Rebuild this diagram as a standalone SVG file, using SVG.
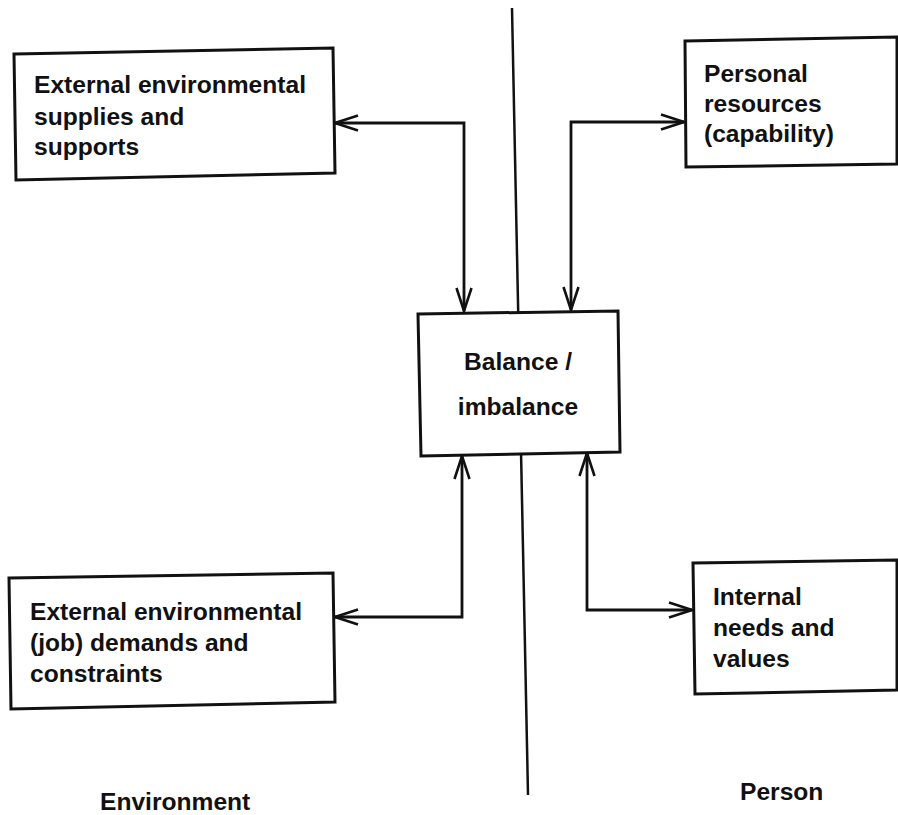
<svg xmlns="http://www.w3.org/2000/svg" width="898" height="815" viewBox="0 0 898 815">
  <style>
    .box { fill: #fff; stroke: #111; stroke-width: 3; stroke-linejoin: miter; }
    .label { font-family: "Liberation Sans", Arial, sans-serif; font-weight: bold; font-size: 24.6px; fill: #111; }
    .link { fill: none; stroke: #111; stroke-width: 2.8; marker-start: url(#head); marker-end: url(#head); }
    .divider { stroke: #111; stroke-width: 2.5; }
  </style>
  <defs>
    <marker id="head" viewBox="-26 -10 28 20" refX="0" refY="0" markerWidth="28" markerHeight="20" markerUnits="userSpaceOnUse" orient="auto-start-reverse">
      <path d="M-23,-7.5 L0,0 L-23,7.5" fill="none" stroke="#111" stroke-width="2.6"/>
    </marker>
  </defs>
  <rect width="898" height="815" fill="#fff"/>

  <!-- environment / person divider -->
  <line class="divider" x1="512" y1="8" x2="528" y2="795"/>

  <!-- connectors -->
  <g id="connectors">
    <path class="link" d="M335,123 H464 V311"/>
    <path class="link" d="M684,122 H571 V310"/>
    <path class="link" d="M335,617 H462 V456"/>
    <path class="link" d="M587,453 V610 H692"/>
  </g>

  <g id="supplies">
    <polygon class="box" points="14,54 333,48 335,173 16,180"/>
    <text class="label" x="34" y="93">External environmental</text>
    <text class="label" x="34" y="125">supplies and</text>
    <text class="label" x="34" y="155">supports</text>
  </g>

  <g id="resources">
    <polygon class="box" points="685,41 897,37 897,164 686,167"/>
    <text class="label" x="704" y="82">Personal</text>
    <text class="label" x="704" y="112">resources</text>
    <text class="label" x="704" y="142">(capability)</text>
  </g>

  <g id="balance">
    <polygon class="box" points="418,314 618,311 620,452 421,456"/>
    <text class="label" x="518" y="370" text-anchor="middle">Balance /</text>
    <text class="label" x="518" y="415" text-anchor="middle">imbalance</text>
  </g>

  <g id="demands">
    <polygon class="box" points="9,578 333,573 335,702 11,709"/>
    <text class="label" x="30" y="620">External environmental</text>
    <text class="label" x="30" y="651">(job) demands and</text>
    <text class="label" x="30" y="682">constraints</text>
  </g>

  <g id="needs">
    <polygon class="box" points="693,563 897,560 897,690 695,694"/>
    <text class="label" x="713" y="605">Internal</text>
    <text class="label" x="713" y="636">needs and</text>
    <text class="label" x="713" y="667">values</text>
  </g>

  <text class="label" x="100" y="810">Environment</text>
  <text class="label" x="740" y="800">Person</text>
</svg>
